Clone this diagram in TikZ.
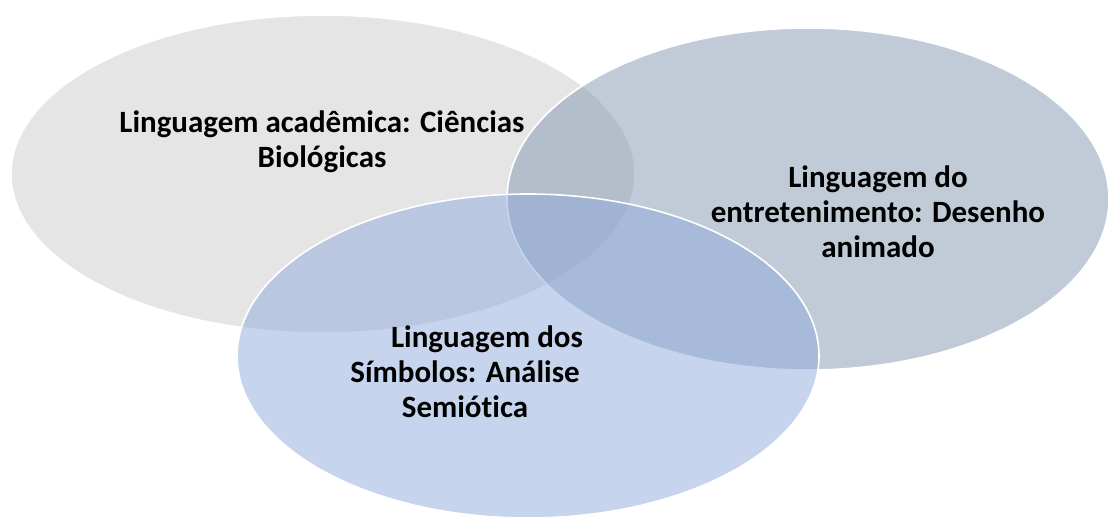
\documentclass[tikz,border=0pt]{standalone}
\usepackage{fontspec}
\setmainfont{Carlito}[Ligatures={NoCommon}]
\usepackage{xcolor}
\usetikzlibrary{shapes.geometric}
\usetikzlibrary{positioning}

\definecolor{acadfill}{HTML}{CCCCCC}
\definecolor{entretfill}{HTML}{8497B0}
\definecolor{simbfill}{HTML}{8EA9DB}

\tikzset{
  venn/.style={shape=ellipse,draw=white,line width=1.6pt,fill opacity=.5,inner sep=0pt},
  venntext/.style={align=center,font=\fontsize{31}{35}\selectfont\bfseries,text=black}
}

\begin{document}
\begin{tikzpicture}[x=1pt,y=-1pt]
  \useasboundingbox (0,0) rectangle (1108,517);
  \clip (0,0) rectangle (1108,517);

  % the three sets
  \node[venn,fill=acadfill,minimum width=624pt,minimum height=318pt] (acad) at (323,174){};
  \node[venn,fill=entretfill,minimum width=602pt,minimum height=342pt] (entret) at (808,199){};
  \node[venn,fill=simbfill,minimum width=582pt,minimum height=324pt] (simb) at (528,356){};

  % labels
  \node[venntext] (acadtext) at (322,142) {Linguagem acadêmica: Ciências\\Biológicas};
  \node[venntext] (entrettext) at (878,212) {Linguagem do\\entretenimento: Desenho\\animado};
  \node[venntext] (simbtext) at (465,372) {\hspace*{44pt}Linguagem dos\\Símbolos: Análise\\Semiótica};

\end{tikzpicture}
\end{document}
